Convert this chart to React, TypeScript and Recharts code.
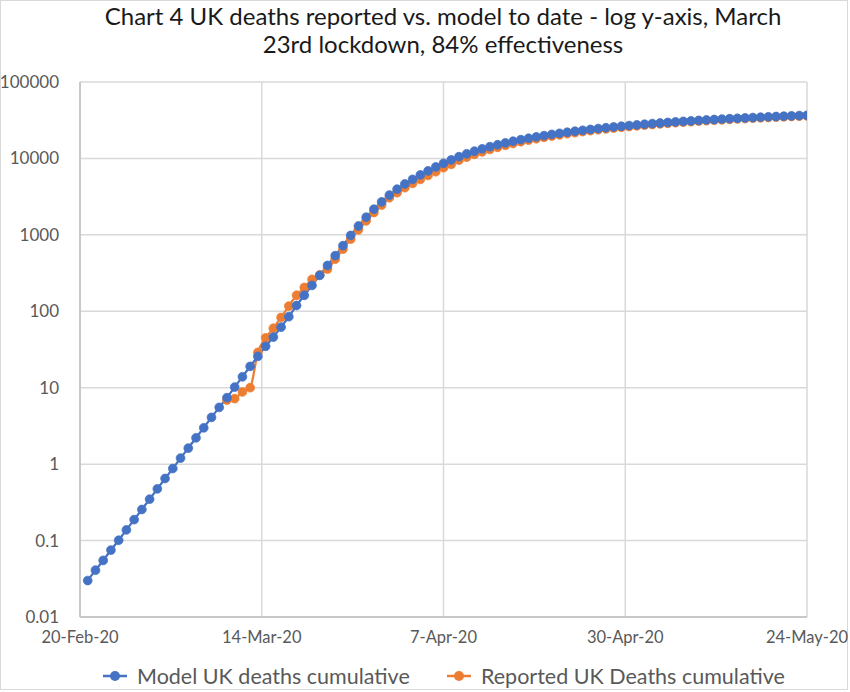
import React from 'react';
import { LineChart, Line, XAxis, YAxis, CartesianGrid } from 'recharts';

// Day numbers count from 20-Feb-20 (day 0)
const FIRST_MODEL_DAY = 1;
const FIRST_REPORTED_DAY = 19;

const modelDeaths = [
  0.030, 0.041, 0.055, 0.075, 0.101, 0.138, 0.188, 0.255, 0.348, 0.475,
  0.649, 0.877, 1.20, 1.62, 2.21, 2.99, 4.09, 5.53, 7.40, 10.2,
  13.9, 19.0, 25.7, 34.8, 46, 62, 85, 119, 162, 218,
  295, 398, 534, 722, 982, 1305, 1700, 2165, 2700, 3320,
  3960, 4630, 5320, 6080, 6870, 7730, 8640, 9550, 10540, 11500,
  12436, 13349, 14239, 15106, 15952, 16777, 17581, 18365, 19130, 19875,
  20602, 21310, 22001, 22674, 23331, 23971, 24596, 25204, 25798, 26376,
  26940, 27490, 28027, 28550, 29060, 29557, 30041, 30514, 30975, 31424,
  31862, 32289, 32705, 33111, 33507, 33893, 34269, 34636, 34994, 35343,
  35683, 36014, 36338, 36653,
];

const reportedDeaths = [
  6.9, 7.2, 8.8, 10, 29, 45, 60, 83, 117, 162,
  205, 262, 300, 357, 481, 650, 879, 1162, 1523, 1960,
  2450, 3060, 3560, 4140, 4710, 5310, 5990, 6700, 7560, 8360,
  9500, 10400, 11320, 12210, 13100, 13970, 14840, 15690, 16530, 17320,
  18100, 18860, 19610, 20350, 21050, 21740, 22420, 23080, 23730, 24370,
  24970, 25560, 26130, 26690, 27240, 27780, 28300, 28820, 29320, 29810,
  30260, 30730, 31160, 31610, 32020, 32450, 32840, 33220, 33620, 33980,
  34330, 34710, 35040, 35370, 35720, 36030,
];

const xTickDays = [0, 23.5, 47, 70.5, 94];
const xTickLabels = ['20-Feb-20', '14-Mar-20', '7-Apr-20', '30-Apr-20', '24-May-20'];
const yTicks = [0.01, 0.1, 1, 10, 100, 1000, 10000, 100000];

const titleLines = [
  'Chart 4 UK deaths reported vs. model to date - log y-axis, March',
  '23rd lockdown, 84% effectiveness',
];
const seriesNames = ['Model UK deaths cumulative', 'Reported UK Deaths cumulative'];

const BLUE = '#4472C4';
const ORANGE = '#ED7D31';
const FONT = 'Lato, "Open Sans", sans-serif';

const modelData = modelDeaths.map((v, i) => ({ day: FIRST_MODEL_DAY + i, value: v }));
const reportedData = reportedDeaths.map((v, i) => ({ day: FIRST_REPORTED_DAY + i, value: v }));

const fmtX = (d: number) => {
  const idx = xTickDays.indexOf(d);
  return idx >= 0 ? xTickLabels[idx] : '';
};
const fmtY = (v: number) => String(v);

const LegendItem = ({ color, label, left }: { color: string; label: string; left: number }) => (
  <div style={{ position: 'absolute', left, top: 662, height: 28, display: 'flex', alignItems: 'center' }}>
    <svg width={26} height={14} style={{ marginRight: 9 }}>
      <line x1={1} y1={7} x2={25} y2={7} stroke={color} strokeWidth={2.5} />
      <circle cx={13} cy={7} r={5} fill={color} />
    </svg>
    <span style={{ fontFamily: FONT, fontSize: 21.5, color: '#595959', whiteSpace: 'nowrap' }}>{label}</span>
  </div>
);

export default function App() {
  return (
    <div style={{ position: 'absolute', left: 0, top: 0, width: 850, height: 692, background: '#fff', overflow: 'hidden' }}>
      <div style={{ position: 'absolute', left: 0, top: 0, width: 846, height: 688, border: '1px solid #d9d9d9' }} />
      <div
        style={{
          position: 'absolute', left: 18, top: 2, width: 850, textAlign: 'center',
          fontFamily: FONT, fontSize: 24, lineHeight: '28px', color: '#1a1a1a',
        }}
      >
        {titleLines.map((t) => (
          <div key={t}>{t}</div>
        ))}
      </div>
      <div style={{ position: 'absolute', left: 0, top: 0 }}>
        <LineChart width={850} height={692} margin={{ top: 82, right: 43, bottom: 45, left: 0 }}>
          <CartesianGrid stroke="#d9d9d9" strokeWidth={1.5} />
          <XAxis
            dataKey="day"
            type="number"
            domain={[0, 94]}
            ticks={xTickDays}
            tickFormatter={fmtX}
            allowDataOverflow
            height={30}
            tickLine={false}
            tickSize={0}
            tickMargin={14}
            axisLine={{ stroke: '#bfbfbf', strokeWidth: 1.5 }}
            tick={{ fill: '#595959', fontSize: 16.5, fontFamily: FONT }}
            interval={0}
          />
          <YAxis
            type="number"
            scale="log"
            domain={[0.01, 100000]}
            ticks={yTicks}
            tickFormatter={fmtY}
            allowDataOverflow
            width={80}
            tickLine={false}
            tickSize={0}
            tickMargin={21}
            axisLine={{ stroke: '#bfbfbf', strokeWidth: 1.5 }}
            tick={{ fill: '#595959', fontSize: 17, fontFamily: FONT }}
            interval={0}
          />
          <Line
            data={reportedData}
            dataKey="value"
            type="monotone"
            stroke={ORANGE}
            strokeWidth={2.25}
            dot={{ r: 4.4, fill: ORANGE, stroke: ORANGE, strokeWidth: 0.75 }}
            isAnimationActive={false}
          />
          <Line
            data={modelData}
            dataKey="value"
            type="monotone"
            stroke={BLUE}
            strokeWidth={2.25}
            dot={{ r: 4.4, fill: BLUE, stroke: BLUE, strokeWidth: 0.75 }}
            isAnimationActive={false}
          />
        </LineChart>
      </div>
      <LegendItem color={BLUE} label={seriesNames[0]} left={102} />
      <LegendItem color={ORANGE} label={seriesNames[1]} left={446} />
    </div>
  );
}
